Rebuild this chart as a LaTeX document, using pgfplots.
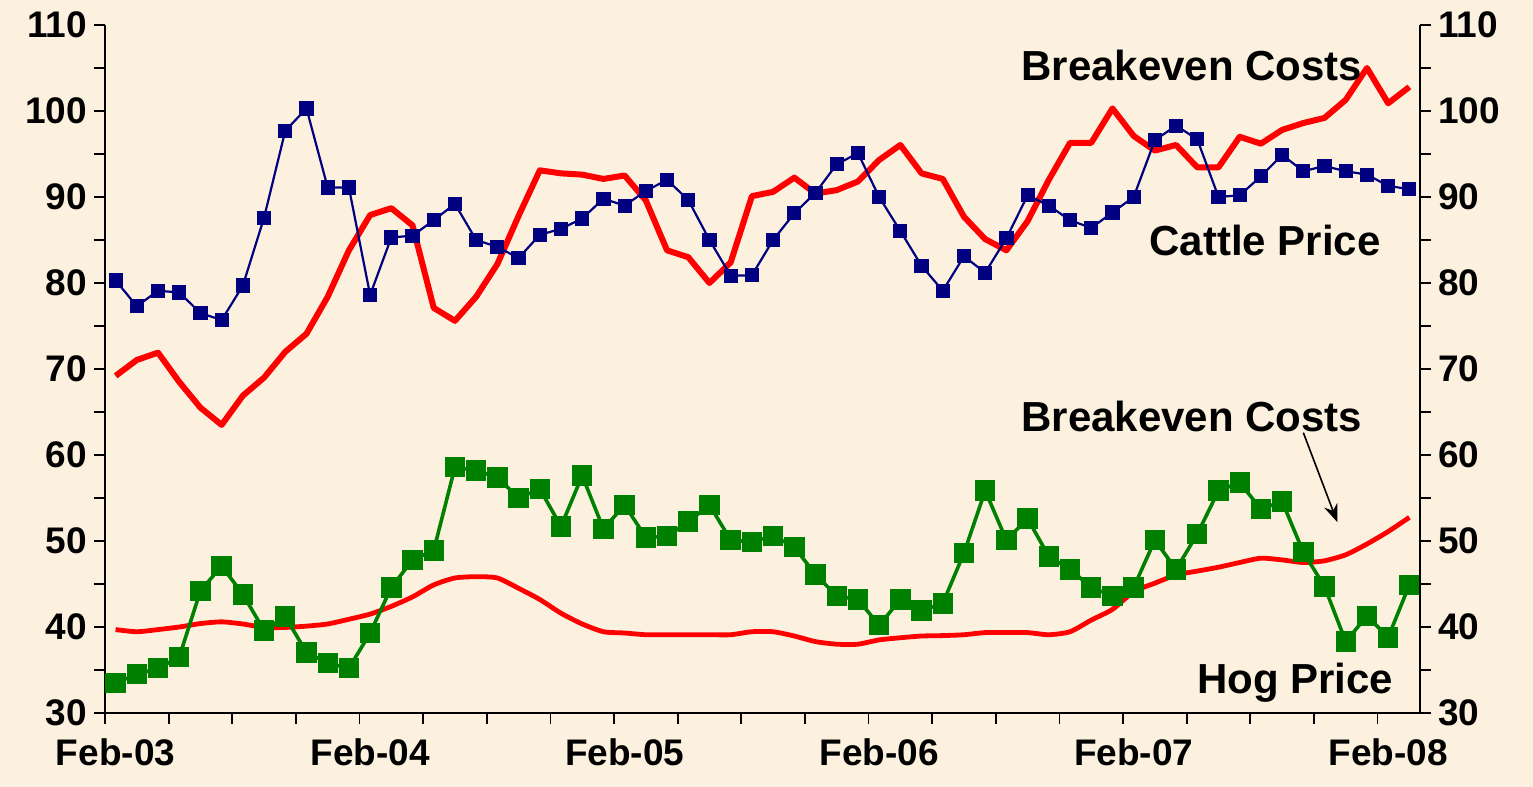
\documentclass[border=0pt]{standalone}
\usepackage{pgfplots}
\pgfplotsset{compat=1.18}
\usepackage{pgfplotstable}
\usetikzlibrary{arrows.meta}
\usepackage{fontspec}
\setmainfont{Liberation Sans}
\definecolor{bg}{RGB}{252,241,223}
\definecolor{navy}{RGB}{0,0,128}
\definecolor{hoggreen}{RGB}{0,128,0}
\definecolor{bered}{RGB}{255,0,0}

\pgfplotstableread{
i cattle cbe hog hbe
0 80.3 69.2 33.5 39.7
1 77.3 71.05 34.5 39.45
2 79.1 71.9 35.2 39.7
3 78.9 68.5 36.5 40.0
4 76.5 65.5 44.2 40.4
5 75.7 63.5 47.1 40.6
6 79.7 66.9 43.8 40.35
7 87.6 69.0 39.6 39.95
8 97.7 72.0 41.2 39.95
9 100.3 74.1 37.05 40.1
10 91.1 78.4 35.8 40.35
11 91.1 83.8 35.2 40.9
12 78.6 87.9 39.3 41.5
13 85.3 88.7 44.6 42.4
14 85.5 86.7 47.8 43.5
15 87.3 77.1 48.9 44.9
16 89.2 75.6 58.6 45.7
17 85.0 78.4 58.2 45.85
18 84.2 82.2 57.4 45.7
19 82.9 87.8 55.0 44.5
20 85.6 93.1 56.05 43.2
21 86.3 92.75 51.7 41.6
22 87.5 92.6 57.6 40.35
23 89.8 92.1 51.4 39.45
24 89.0 92.5 54.2 39.3
25 90.7 89.6 50.4 39.1
26 92.0 83.8 50.55 39.1
27 89.65 83.0 52.25 39.1
28 85.0 80.0 54.2 39.1
29 80.85 82.4 50.1 39.1
30 80.9 90.1 49.9 39.45
31 85.0 90.6 50.6 39.45
32 88.1 92.25 49.3 38.95
33 90.5 90.4 46.1 38.3
34 93.8 90.8 43.6 38.0
35 95.1 91.8 43.2 38.0
36 90.0 94.3 40.2 38.5
37 86.05 96.05 43.2 38.75
38 82.0 92.75 41.9 38.95
39 79.1 92.1 42.75 39.0
40 83.1 87.7 48.6 39.1
41 81.2 85.1 55.85 39.35
42 85.2 83.8 50.1 39.35
43 90.2 87.2 52.6 39.35
44 89.0 92.0 48.2 39.1
45 87.3 96.3 46.7 39.45
46 86.4 96.3 44.6 40.8
47 88.2 100.3 43.6 42.05
48 90.0 97.1 44.6 44.1
49 96.6 95.4 50.1 45.1
50 98.3 96.05 46.7 46.05
51 96.7 93.45 50.8 46.5
52 90.0 93.45 55.85 46.95
53 90.2 97.0 56.8 47.5
54 92.4 96.2 53.7 48.0
55 94.9 97.8 54.6 47.8
56 93.0 98.6 48.7 47.5
57 93.6 99.2 44.7 47.7
58 93.0 101.3 38.3 48.4
59 92.6 105.0 41.3 49.65
60 91.3 100.9 38.8 51.1
61 90.9 102.8 44.9 52.75
}\data

\pgfplotsset{
  common/.style={
    scale only axis, width=657.5pt, height=344pt,
    xmin=-0.5, xmax=61.5, ymin=30, ymax=110,
    axis line style={line width=1pt, black},
    tick style={line width=0.9pt, black},
    tick align=outside,
    major tick length=5.5pt, minor tick length=5.5pt,
    ytick={30,40,...,110}, minor ytick={35,45,...,105},
    ticklabel style={font=\fontsize{18.5}{20}\selectfont\bfseries},
    /pgf/number format/assume math mode=true,
    clip=false,
  }
}

\begin{document}
\begin{tikzpicture}
\fill[bg] (-52.5pt,-37pt) rectangle (714pt,356.5pt);
\begin{axis}[
  common,
  axis x line*=bottom, axis y line*=left,
  xtick={0,12,24,36,48,60},
  xticklabels={Feb-03,Feb-04,Feb-05,Feb-06,Feb-07,Feb-08},
  minor xtick={-0.5,2.5,...,59.5},
  major x tick style={draw=none},
  xticklabel style={yshift=-4pt},
]
\addplot[bered, line width=2.4pt, smooth, tension=0.4] table[x=i, y=hbe] {\data};
\addplot[hoggreen, line width=1.8pt, mark=square*, mark size=4.2pt, mark options={solid, fill=hoggreen, draw=hoggreen}] table[x=i, y=hog] {\data};
\addplot[bered, line width=3pt, line join=round] table[x=i, y=cbe] {\data};
\addplot[navy, line width=1.1pt, mark=square*, mark size=3pt, mark options={solid, fill=navy, draw=navy}] table[x=i, y=cattle] {\data};

\node[font=\fontsize{21}{24}\selectfont\bfseries] at (axis cs:50.75,105.35) {Breakeven Costs};
\node[font=\fontsize{21}{24}\selectfont\bfseries] at (axis cs:54.19,85.0) {Cattle Price};
\node[font=\fontsize{21}{24}\selectfont\bfseries] at (axis cs:50.75,64.5) {Breakeven Costs};
\node[font=\fontsize{21}{24}\selectfont\bfseries] at (axis cs:55.62,33.5) {Hog Price};
\draw[-{Stealth[length=9pt,width=7pt]}, line width=0.8pt, black] (axis cs:56.0,62.6) -- (axis cs:57.6,52.2);
\end{axis}
\begin{axis}[
  common,
  axis x line=none, axis y line*=right,
]
\end{axis}
\end{tikzpicture}
\end{document}
